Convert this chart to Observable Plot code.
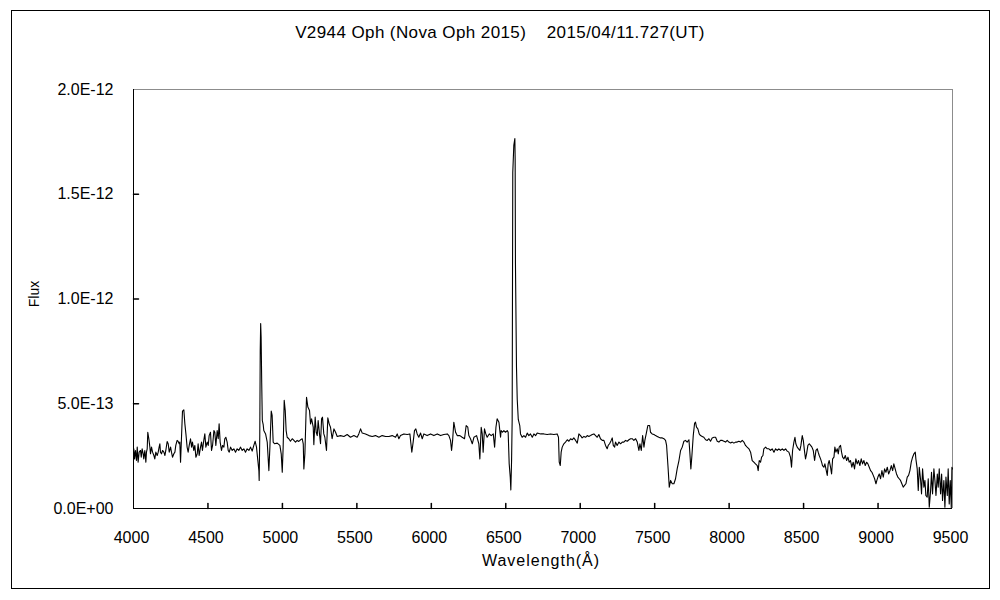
<!DOCTYPE html>
<html>
<head>
<meta charset="utf-8">
<script src="https://cdn.jsdelivr.net/npm/d3@7"></script>
<script src="https://cdn.jsdelivr.net/npm/@observablehq/plot@0.6"></script>
<style>
  html, body { margin: 0; padding: 0; background: #fff; }
  #chart svg { display: block; }
</style>
</head>
<body>
<div id="chart"></div>
<script>
// Wavelength (Å) and flux (in units of 1e-13)
const wavelength = [
4000,4002,4007,4013,4020,4025,4031,4038,4047,4052,4058,4065,4069,4076,4083,4087,4092,4096,4103,4110,
4114,4121,4128,4137,4143,4150,4159,4166,4172,4177,4181,4188,4195,4204,4211,4217,4226,4233,4240,4249,
4255,4262,4271,4278,4284,4293,4300,4307,4311,4316,4322,4329,4338,4345,4352,4360,4367,4374,4383,4390,
4396,4405,4412,4419,4428,4434,4441,4450,4457,4463,4472,4479,4486,4495,4502,4508,4517,4524,4531,4540,
4546,4553,4562,4569,4575,4582,4591,4598,4607,4613,4620,4629,4636,4643,4652,4663,4674,4685,4696,4707,
4719,4730,4741,4752,4763,4775,4786,4797,4808,4817,4826,4835,4842,4844,4848,4851,4854,4857,4861,4865,
4871,4875,4887,4898,4909,4916,4925,4931,4938,4947,4965,4983,4992,4999,5005,5012,5019,5025,5032,5043,
5054,5066,5077,5088,5099,5110,5122,5133,5140,5144,5151,5160,5162,5171,5182,5189,5196,5207,5211,5220,
5227,5234,5240,5249,5256,5263,5269,5278,5285,5296,5305,5314,5323,5334,5346,5357,5368,5390,5413,5435,
5457,5480,5502,5513,5525,5536,5558,5581,5603,5625,5648,5670,5693,5715,5737,5760,5771,5782,5793,5816,
5838,5856,5863,5869,5878,5887,5896,5905,5916,5928,5939,5950,5972,5995,6017,6040,6062,6084,6107,6118,
6129,6136,6143,6151,6163,6174,6192,6207,6223,6234,6245,6252,6263,6275,6286,6304,6319,6326,6335,6342,
6348,6357,6366,6375,6389,6402,6416,6425,6434,6442,6454,6465,6469,6478,6487,6498,6510,6516,6523,6530,
6534,6539,6543,6547,6554,6561,6563,6565,6572,6577,6584,6594,6599,6610,6622,6633,6644,6655,6666,6678,
6689,6700,6711,6734,6756,6778,6801,6823,6845,6854,6859,6866,6872,6879,6890,6901,6913,6924,6935,6946,
6957,6969,6980,6991,7002,7013,7025,7036,7047,7058,7069,7081,7092,7103,7114,7125,7136,7148,7159,7170,
7181,7188,7197,7208,7215,7222,7231,7237,7248,7260,7271,7282,7293,7304,7316,7327,7338,7349,7360,7372,
7383,7394,7401,7410,7419,7428,7434,7443,7454,7466,7472,7483,7495,7506,7517,7528,7539,7551,7562,7573,
7580,7589,7598,7607,7618,7629,7640,7651,7663,7674,7685,7696,7707,7718,7730,7736,7743,7750,7759,7768,
7774,7781,7790,7799,7808,7819,7830,7842,7853,7864,7875,7886,7898,7909,7920,7931,7942,7954,7965,7976,
7987,7998,8010,8021,8032,8043,8054,8065,8077,8088,8099,8110,8121,8133,8144,8155,8166,8177,8189,8195,
8202,8211,8218,8227,8233,8245,8256,8267,8278,8289,8301,8312,8323,8334,8345,8357,8368,8379,8390,8401,
8412,8419,8426,8435,8442,8448,8457,8466,8475,8482,8491,8498,8507,8513,8520,8529,8538,8547,8556,8565,
8574,8583,8592,8598,8605,8614,8621,8627,8636,8643,8650,8659,8665,8672,8681,8688,8695,8704,8710,8717,
8726,8733,8739,8748,8755,8762,8771,8780,8789,8798,8806,8815,8824,8833,8842,8851,8860,8869,8878,8887,
8896,8905,8914,8923,8932,8941,8950,8959,8968,8977,8986,8992,8999,9008,9017,9026,9035,9044,9053,9062,
9071,9080,9089,9098,9106,9115,9124,9133,9142,9151,9160,9169,9178,9187,9196,9205,9214,9223,9232,9241,
9250,9254,9263,9270,9277,9286,9292,9299,9308,9315,9321,9330,9337,9344,9353,9359,9366,9375,9382,9389,
9398,9404,9411,9420,9427,9433,9442,9449,9456,9465,9471,9478,9485,9492,9496,9500
];
const flux13 = [
2.69,2.85,2.37,2.77,2.29,2.93,2.21,2.69,2.77,2.45,2.85,2.61,2.37,2.77,2.21,2.69,2.85,3.64,3.33,2.93,
2.61,2.93,2.69,2.53,2.37,2.69,2.53,2.69,2.93,3.09,2.69,2.61,2.77,2.69,2.53,2.77,3.20,3.09,2.69,2.93,
2.69,2.45,2.61,2.69,3.01,3.25,3.20,3.09,3.17,2.21,3.33,4.65,4.71,4.04,3.56,2.93,2.69,3.01,3.33,2.93,
3.17,2.77,3.01,2.45,2.61,3.09,2.53,2.93,3.17,2.77,3.25,3.56,2.93,3.17,3.01,3.48,3.64,2.77,3.01,3.72,
3.64,3.01,3.72,3.33,4.04,3.17,2.77,3.01,2.93,3.33,3.40,3.17,2.77,2.69,2.93,2.77,2.85,2.69,2.85,2.77,
2.93,2.77,2.85,2.69,2.85,2.77,2.93,2.74,3.01,3.21,2.93,2.29,1.81,1.34,3.50,7.50,8.83,8.20,6.00,4.20,
4.00,3.72,3.56,3.17,1.81,2.93,4.65,4.44,3.17,3.09,3.12,3.01,2.61,1.73,2.93,5.16,4.68,3.72,3.40,3.33,
3.21,3.33,3.25,3.17,3.25,3.20,3.28,3.33,3.09,1.89,2.61,4.87,5.31,4.84,4.68,4.04,4.28,3.88,3.05,4.36,
3.64,3.48,4.20,3.56,3.09,4.28,4.36,3.56,3.40,2.77,4.33,4.04,3.88,3.33,3.80,3.64,3.44,3.48,3.44,3.53,
3.40,3.48,3.40,3.56,3.80,3.60,3.56,3.48,3.44,3.48,3.40,3.48,3.44,3.44,3.48,3.40,3.56,3.33,3.48,3.56,
3.53,3.56,3.09,2.69,3.17,3.72,3.80,3.56,3.40,3.60,3.33,3.56,3.48,3.56,3.48,3.56,3.48,3.53,3.56,3.48,
3.25,2.77,3.25,4.12,3.64,3.48,3.48,3.40,3.33,3.96,3.88,3.48,3.33,3.09,3.40,3.48,3.09,2.37,3.88,3.56,
2.69,3.80,3.56,3.40,3.56,3.48,3.56,2.93,3.88,4.28,4.12,3.40,3.72,3.64,3.72,3.64,3.72,3.64,2.13,1.50,
0.89,2.29,4.26,16.04,17.33,17.66,16.66,11.69,6.73,5.20,4.25,3.96,3.56,3.40,3.48,3.40,3.60,3.48,3.56,3.40,
3.56,3.48,3.60,3.56,3.56,3.53,3.56,3.53,3.56,3.40,2.21,2.05,2.69,2.93,3.09,3.17,3.28,3.21,3.33,3.28,
3.37,3.25,3.12,3.56,3.48,3.37,3.44,3.40,3.48,3.44,3.48,3.53,3.56,3.48,3.40,3.53,3.33,3.25,3.25,3.01,
2.85,3.01,3.09,3.25,3.37,3.01,2.93,3.17,3.01,3.17,3.09,3.17,3.17,3.25,3.21,3.28,3.33,3.33,3.25,3.33,
3.17,2.77,3.09,2.77,3.48,2.93,3.25,3.56,3.96,3.96,3.64,3.56,3.53,3.48,3.44,3.40,3.37,3.37,3.33,3.25,
3.01,2.05,1.02,1.34,1.18,1.18,1.42,1.89,2.29,2.77,2.93,3.21,3.25,3.17,3.28,2.69,1.89,2.53,3.48,4.07,
4.12,3.88,3.80,3.56,3.48,3.44,3.40,3.28,3.25,3.33,3.21,3.37,3.40,3.40,3.21,3.17,3.25,3.25,3.21,3.17,
3.25,3.17,3.13,3.17,3.12,3.17,3.17,3.21,3.17,3.25,3.17,3.01,2.93,2.85,2.69,2.29,2.21,2.13,2.05,1.81,
2.29,2.21,2.45,2.53,2.85,2.93,2.85,2.85,2.77,2.85,2.69,2.85,2.77,2.85,2.77,2.85,2.77,2.85,2.74,2.69,
2.45,1.97,2.77,3.17,3.40,3.09,2.93,2.85,2.77,3.01,3.48,3.25,2.69,2.37,2.61,3.01,3.09,3.01,2.93,2.77,
2.29,2.77,2.85,2.69,2.53,2.37,2.21,2.05,1.97,2.13,1.89,1.58,2.13,2.29,1.97,1.65,2.37,2.45,2.93,2.69,
2.85,2.61,2.93,3.01,2.69,2.45,2.37,2.53,2.29,2.45,2.21,2.29,1.97,2.21,1.89,2.37,2.13,2.29,2.05,2.37,
2.13,2.29,2.05,2.21,2.13,1.97,1.81,1.73,1.58,1.42,1.18,1.34,1.50,1.65,1.42,1.81,1.50,1.89,1.73,1.97,
1.65,1.81,2.05,1.81,2.13,1.89,1.65,1.50,1.42,1.34,1.18,1.02,1.10,1.18,1.50,1.58,1.81,2.21,2.45,2.61,
2.69,2.37,1.89,0.86,1.97,1.34,0.70,1.89,1.02,1.34,0.62,0.54,1.42,0.06,0.86,1.73,0.70,1.89,1.34,0.62,
1.65,1.02,1.89,0.70,1.65,0.38,1.34,0.06,1.50,0.62,1.89,0.22,1.34,0.00,1.97,1.89
];
const fluxUnit = 1e-13;
const xTicks = [4000,4500,5000,5500,6000,6500,7000,7500,8000,8500,9000,9500];
const yTicks = [0, 5e-13, 1e-12, 1.5e-12, 2e-12];
const titleText = "V2944 Oph (Nova Oph 2015)    2015/04/11.727(UT)";
const xLabel = "Wavelength(Å)";
const yLabel = "Flux";

const spectrum = wavelength.map((w, i) => ({w, f: flux13[i] * fluxUnit}));

function sci(d) {
  if (d === 0) return "0.0E+00";
  const e = Math.floor(Math.log10(Math.abs(d)) + 1e-9);
  const m = d / Math.pow(10, e);
  return m.toFixed(1) + "E" + (e < 0 ? "-" : "+") + String(Math.abs(e)).padStart(2, "0");
}

const font = "'Liberation Sans', Arial, sans-serif";
const tickLine = {draw(context, l) { context.moveTo(0, 0); context.lineTo(0, -l); }};

const chart = Plot.plot({
  width: 1000,
  height: 600,
  marginLeft: 133,
  marginRight: 48,
  marginTop: 89,
  marginBottom: 92,
  style: {fontFamily: font, color: "#000", background: "#fff"},
  x: {domain: [4000, 9500], axis: null},
  y: {domain: [0, 2e-12], axis: null},
  marks: [
    Plot.ruleX([9500], {stroke: "#8c8c8c"}),
    Plot.ruleY([2e-12], {stroke: "#8c8c8c"}),
    Plot.line(spectrum, {x: "w", y: "f", stroke: "#000", strokeWidth: 1.1}),
    Plot.ruleX([4000], {stroke: "#000"}),
    Plot.ruleY([0], {stroke: "#000"}),
    Plot.vector(xTicks.slice(1, -1), {x: d => d, y: 0, length: 5, rotate: 0, anchor: "start", shape: tickLine, stroke: "#000"}),
    Plot.vector(yTicks.slice(1, -1), {x: 4000, y: d => d, length: 5, rotate: 90, anchor: "start", shape: tickLine, stroke: "#000"}),
    Plot.text(xTicks, {x: d => d, y: 0, text: d => String(d), dy: 29, dx: -2, fontSize: 16, fill: "#000", lineAnchor: "middle", textAnchor: "middle"}),
    Plot.text(yTicks, {x: 4000, y: d => d, text: sci, dx: -20, fontSize: 16, fill: "#000", lineAnchor: "middle", textAnchor: "end"})
  ]
});

document.getElementById("chart").appendChild(chart);

const svg = d3.select(chart);
svg.append("rect")
  .attr("x", 11.5).attr("y", 10.5)
  .attr("width", 978).attr("height", 578)
  .attr("fill", "none").attr("stroke", "#000").attr("stroke-width", 1);
svg.append("text")
  .attr("x", 500).attr("y", 34)
  .attr("text-anchor", "middle").attr("dominant-baseline", "middle")
  .style("white-space", "pre")
  .style("letter-spacing", "0.4px")
  .attr("font-family", font).attr("font-size", 17).attr("fill", "#000")
  .text(titleText);
svg.append("text")
  .attr("x", 541).attr("y", 562)
  .attr("text-anchor", "middle").attr("dominant-baseline", "middle")
  .style("letter-spacing", "1px")
  .attr("font-family", font).attr("font-size", 16).attr("fill", "#000")
  .text(xLabel);
svg.append("text")
  .attr("transform", "translate(35,294) rotate(-90)")
  .attr("text-anchor", "middle").attr("dominant-baseline", "middle")
  .attr("font-family", font).attr("font-size", 14).attr("fill", "#000")
  .text(yLabel);
</script>
</body>
</html>
